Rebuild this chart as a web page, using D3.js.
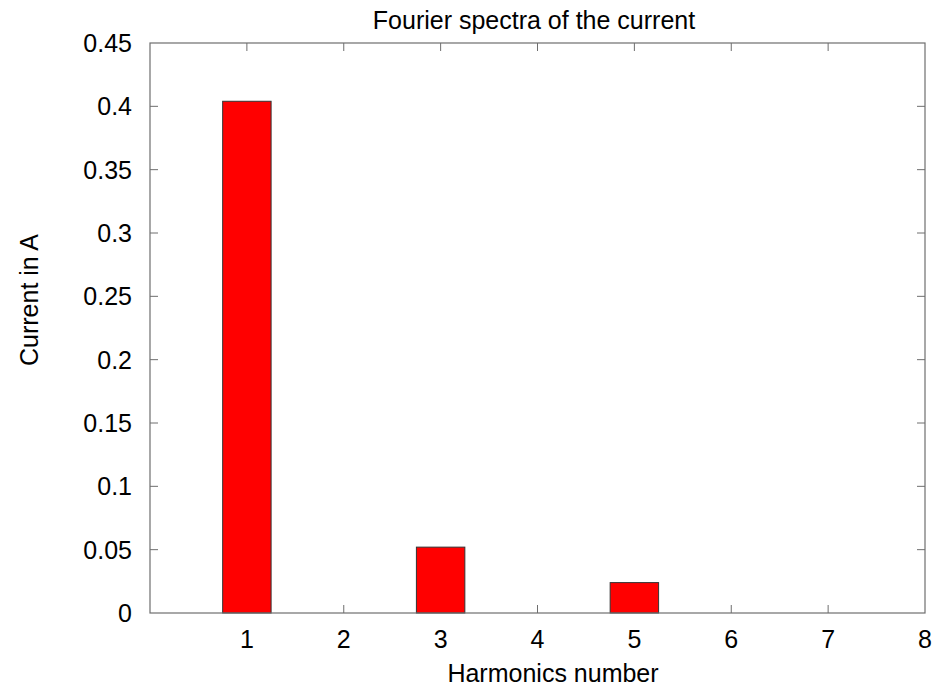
<!DOCTYPE html>
<html>
<head>
<meta charset="utf-8">
<script src="https://cdn.jsdelivr.net/npm/d3@7"></script>
<style>
  html, body { margin: 0; padding: 0; background: #fff; }
  text { font-family: "Liberation Sans", Arial, sans-serif; fill: #000; }
</style>
</head>
<body>
<svg id="chart" width="945" height="695"></svg>
<script>
// Harmonic amplitudes of the current
const harmonics = [1, 3, 5];
const amplitudes = [0.404, 0.052, 0.024];
const xTicks = [1, 2, 3, 4, 5, 6, 7, 8];
const yTicks = [0, 0.05, 0.1, 0.15, 0.2, 0.25, 0.3, 0.35, 0.4, 0.45];

const W = 945, H = 695;
const margin = { left: 150, right: 20, top: 43, bottom: 82 };
const svg = d3.select("#chart");

const x = d3.scaleLinear().domain([0, 8]).range([margin.left, W - margin.right]);
const y = d3.scaleLinear().domain([0, 0.45]).range([H - margin.bottom, margin.top]);
const barW = x(0.5) - x(0);
const tickLen = 8;
const frameColor = "#6e6e6e";
const fontSize = 25;

// inward ticks on all four sides
const inner = svg.append("g");
xTicks.filter(t => t > 0 && t < 8).forEach(t => {
  inner.append("line").attr("x1", x(t)).attr("x2", x(t))
    .attr("y1", y(0)).attr("y2", y(0) - tickLen).attr("stroke", frameColor);
  inner.append("line").attr("x1", x(t)).attr("x2", x(t))
    .attr("y1", y(0.45)).attr("y2", y(0.45) + tickLen).attr("stroke", frameColor);
});
yTicks.filter(t => t > 0 && t < 0.45).forEach(t => {
  inner.append("line").attr("x1", x(0)).attr("x2", x(0) + tickLen)
    .attr("y1", y(t)).attr("y2", y(t)).attr("stroke", frameColor);
  inner.append("line").attr("x1", x(8)).attr("x2", x(8) - tickLen)
    .attr("y1", y(t)).attr("y2", y(t)).attr("stroke", frameColor);
});

// bars
svg.append("g").selectAll("rect")
  .data(harmonics.map((h, i) => ({ h, v: amplitudes[i] })))
  .join("rect")
  .attr("x", d => x(d.h) - barW / 2)
  .attr("y", d => y(d.v))
  .attr("width", barW)
  .attr("height", d => y(0) - y(d.v))
  .attr("fill", "#ff0000")
  .attr("stroke", "#333")
  .attr("stroke-width", 1);

// frame
svg.append("rect")
  .attr("x", x(0)).attr("y", y(0.45))
  .attr("width", x(8) - x(0)).attr("height", y(0) - y(0.45))
  .attr("fill", "none").attr("stroke", frameColor).attr("stroke-width", 1.2);

// tick labels
const fmt = d => String(+d.toFixed(2));
svg.append("g").selectAll("text").data(yTicks).join("text")
  .attr("x", 132).attr("y", d => y(d)).attr("dy", "0.36em")
  .attr("text-anchor", "end").attr("font-size", fontSize)
  .text(d => fmt(d));
svg.append("g").selectAll("text").data(xTicks).join("text")
  .attr("x", d => x(d)).attr("y", 648)
  .attr("text-anchor", "middle").attr("font-size", fontSize)
  .text(d => d);

// titles
svg.append("text").attr("x", 534).attr("y", 29)
  .attr("text-anchor", "middle").attr("font-size", fontSize)
  .text("Fourier spectra of the current");
svg.append("text").attr("x", 553).attr("y", 682)
  .attr("text-anchor", "middle").attr("font-size", fontSize)
  .text("Harmonics number");
svg.append("text")
  .attr("transform", "translate(38,300) rotate(-90)")
  .attr("text-anchor", "middle").attr("font-size", fontSize)
  .text("Current in A");
</script>
</body>
</html>
